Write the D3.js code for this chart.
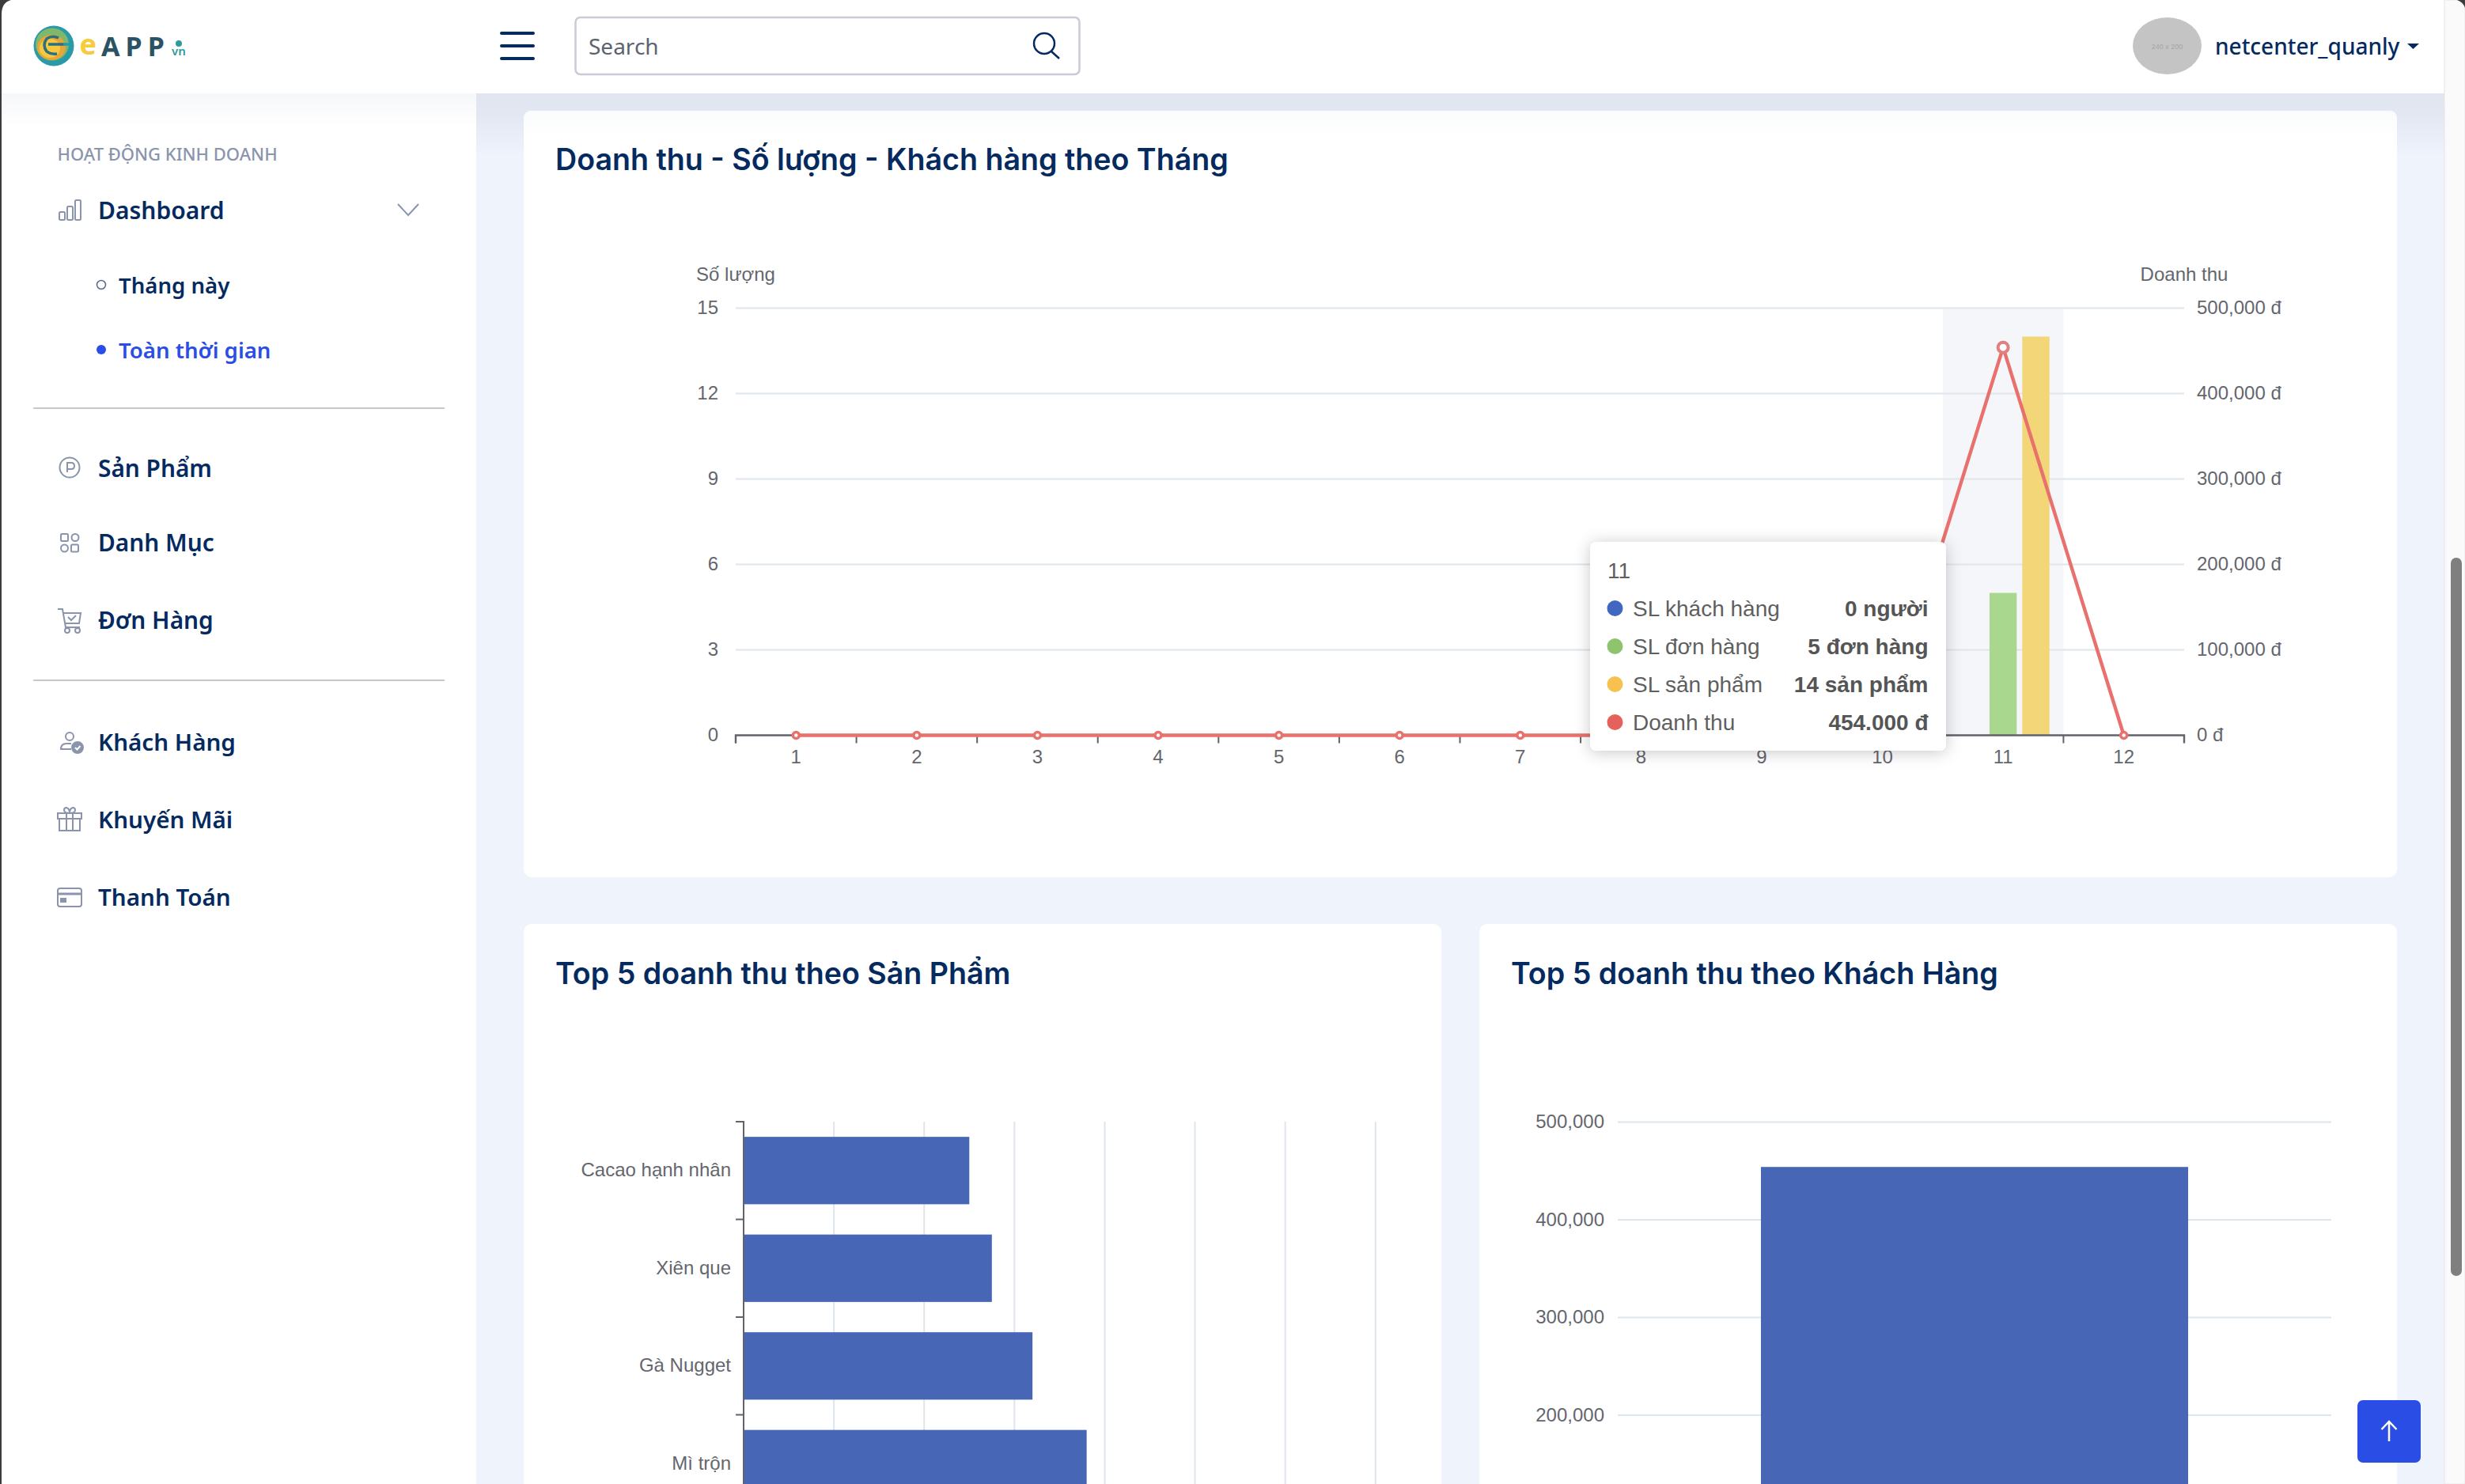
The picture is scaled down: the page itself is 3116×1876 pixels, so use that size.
<!DOCTYPE html>
<html>
<head>
<meta charset="utf-8">
<script src="https://d3js.org/d3.v7.min.js"></script>
<style>
html, body { margin: 0; padding: 0; background: #f0f4fc; overflow: hidden; }
svg { display: block; }
</style>
</head>
<body>
<div id="page"></div>
<script>
// chart values
var months = ["1","2","3","4","5","6","7","8","9","10","11","12"];
var customersByMonth = [0,0,0,0,0,0,0,0,0,0,0,0];
var ordersByMonth = [0,0,0,0,0,0,0,0,0,0,5,0];
var productsByMonth = [0,0,0,0,0,0,0,0,0,0,14,0];
var revenueByMonth = [0,0,0,0,0,0,0,0,0,0,454000,0];
var countTicks = [0,3,6,9,12,15];
var revenueTicks = [0,100000,200000,300000,400000,500000];
var seriesNames = ["SL khách hàng","SL đơn hàng","SL sản phẩm"];
var tooltipLabels = ["SL khách hàng","SL đơn hàng","SL sản phẩm","Doanh thu"];
var tooltipValues = ["0 người","5 đơn hàng","14 sản phẩm","454.000 đ"];

var productNames = ["Cacao hạnh nhân","Xiên que","Gà Nugget","Mì trộn"];
var productRevenue = [250000,275000,320000,380000];
var productTicks = [100000,200000,300000,400000,500000,600000,700000];

var customerNames = ["Top 1"];
var customerRevenue = [454000];
var customerTicks = [200000,300000,400000,500000];

var menuTop = ["Sản Phẩm","Danh Mục","Đơn Hàng"];
var menuBottom = ["Khách Hàng","Khuyến Mãi","Thanh Toán"];

var navy = "#042a60", axisGrey = "#616369", gridColor = "#dfe5ec", labelGrey = "#64666e";
var chartFont = "'Liberation Sans', Arial, sans-serif";
var uiFont = "'Noto Sans', sans-serif";
var titleFont = "Inter, sans-serif";
var barBlue = "#4767b6", lineRed = "#e8706d";

var svg = d3.select("#page").append("svg")
  .attr("width", 3116).attr("height", 1876);

var defs = svg.append("defs");
function shadow(id, dy, blur, op, col) {
  var f = defs.append("filter").attr("id", id)
    .attr("x", "-20%").attr("y", "-30%").attr("width", "140%").attr("height", "170%");
  f.append("feDropShadow").attr("dx", 0).attr("dy", dy)
    .attr("stdDeviation", blur).attr("flood-color", col).attr("flood-opacity", op);
}
shadow("tipShadow", 2, 10, 0.22, "#000");
function fade(id, stops) {
  var g = defs.append("linearGradient").attr("id", id).attr("x1", 0).attr("x2", 0).attr("y1", 0).attr("y2", 1);
  stops.forEach(function(s) { g.append("stop").attr("offset", s[0]).attr("stop-color", s[1]); });
}
fade("bgFade", [[0, "#e0e5f0"], [0.3, "#e2e7f2"], [1, "#eff3fc"]]);
fade("sideFade", [[0, "#f6f7f9"], [1, "#ffffff"]]);
fade("cardFade", [[0, "#fafbfc"], [1, "#ffffff"]]);

// page + cards
svg.append("rect").attr("width", 3116).attr("height", 1876).attr("fill", "#eff3fc");
svg.append("rect").attr("x", 602).attr("y", 118).attr("width", 2488).attr("height", 80).attr("fill", "url(#bgFade)");
function card(x, y, w, h) {
  svg.append("rect").attr("x", x).attr("y", y).attr("width", w).attr("height", h)
    .attr("rx", 10).attr("fill", "#fff");
}
card(662, 140, 2368, 969);
card(662, 1168, 1160, 800);
card(1870, 1168, 1160, 800);
svg.append("path").attr("d", "M662 172 V150 Q662 140 672 140 H3020 Q3030 140 3030 150 V172 Z").attr("fill", "url(#cardFade)");

function title(x, y, s) {
  svg.append("text").attr("x", x).attr("y", y).text(s)
    .attr("font-family", titleFont).attr("font-weight", 600)
    .attr("font-size", 37.6).attr("fill", navy).attr("dominant-baseline", "central");
}
title(702, 201, "Doanh thu - Số lượng - Khách hàng theo Tháng");
title(702, 1230, "Top 5 doanh thu theo Sản Phẩm");
title(1910, 1230, "Top 5 doanh thu theo Khách Hàng");

function styleAxis(g) {
  g.selectAll("text").attr("font-family", chartFont).attr("font-size", 24).attr("fill", labelGrey);
}

// main chart
var x = d3.scaleBand().domain(months).range([930, 2761]);
var yCount = d3.scaleLinear().domain([0, 15]).range([929.5, 389.5]);
var yRev = d3.scaleLinear().domain([0, 500000]).range([929.5, 389.5]);
var inner = d3.scaleBand().domain(seriesNames)
  .range([-0.384 * x.step(), 0.384 * x.step()]).paddingInner(0.169);

var main = svg.append("g");
main.append("rect").attr("x", x("11")).attr("y", yCount(15))
  .attr("width", x.bandwidth()).attr("height", yCount(0) - yCount(15)).attr("fill", "#f5f6fa");

var gLeft = main.append("g").attr("transform", "translate(930,0)")
  .call(d3.axisLeft(yCount).tickValues(countTicks).tickSize(-1831).tickPadding(22).offset(0));
gLeft.select(".domain").remove();
gLeft.selectAll("line").attr("stroke", gridColor).attr("stroke-width", 2)
  .filter(function(d) { return d === 0; }).remove();
styleAxis(gLeft);

var gRight = main.append("g").attr("transform", "translate(2761,0)")
  .call(d3.axisRight(yRev).tickValues(revenueTicks).tickSize(0).tickPadding(16).offset(0)
    .tickFormat(function(d) { return d3.format(",")(d) + " đ"; }));
gRight.select(".domain").remove();
styleAxis(gRight);

main.append("text").attr("x", 930).attr("y", 346).text("Số lượng")
  .attr("text-anchor", "middle").attr("dominant-baseline", "central")
  .attr("font-family", chartFont).attr("font-size", 24).attr("fill", labelGrey);
main.append("text").attr("x", 2761).attr("y", 346).text("Doanh thu")
  .attr("text-anchor", "middle").attr("dominant-baseline", "central")
  .attr("font-family", chartFont).attr("font-size", 24).attr("fill", labelGrey);

var barSeries = [
  {name: seriesNames[0], values: customersByMonth, color: "#8ea4d6"},
  {name: seriesNames[1], values: ordersByMonth, color: "#a9d78e"},
  {name: seriesNames[2], values: productsByMonth, color: "#f2d678"}
];
main.selectAll("g.series").data(barSeries).enter().append("g").attr("class", "series")
  .attr("fill", function(s) { return s.color; })
  .selectAll("rect").data(function(s) {
    return s.values.map(function(v, i) { return {v: v, m: months[i], name: s.name}; });
  }).enter().filter(function(d) { return d.v > 0; }).append("rect")
  .attr("x", function(d) { return x(d.m) + x.bandwidth() / 2 + inner(d.name); })
  .attr("width", inner.bandwidth())
  .attr("y", function(d) { return yCount(d.v); })
  .attr("height", function(d) { return yCount(0) - yCount(d.v); });

var gBottom = main.append("g").attr("transform", "translate(0,929.5)")
  .call(d3.axisBottom(x).tickSizeInner(0).tickSizeOuter(10).tickPadding(18).offset(0));
gBottom.select(".domain").attr("stroke", axisGrey).attr("stroke-width", 2.4);
styleAxis(gBottom);
gBottom.selectAll("line.sep").data(months).enter().append("line").attr("class", "sep")
  .attr("x1", function(d) { return x(d); }).attr("x2", function(d) { return x(d); })
  .attr("y1", 0).attr("y2", 10).attr("stroke", axisGrey).attr("stroke-width", 2);

var line = d3.line()
  .x(function(d, i) { return x(months[i]) + x.bandwidth() / 2; })
  .y(function(d) { return yRev(d); });
main.append("path").datum(revenueByMonth).attr("d", line)
  .attr("fill", "none").attr("stroke", lineRed).attr("stroke-width", 4.4);
main.selectAll("circle.pt").data(revenueByMonth).enter().append("circle").attr("class", "pt")
  .attr("cx", function(d, i) { return x(months[i]) + x.bandwidth() / 2; })
  .attr("cy", function(d) { return yRev(d); })
  .attr("r", function(d, i) { return months[i] === "11" ? 6.5 : 4; })
  .attr("fill", "#fff")
  .attr("stroke", function(d, i) { return months[i] === "11" ? "#e27f7f" : lineRed; })
  .attr("stroke-width", function(d, i) { return months[i] === "11" ? 4 : 3.5; });

// tooltip
var tipColors = ["#4267c0", "#8fc46f", "#f6c14f", "#e6605c"];
var tip = svg.append("g").attr("transform", "translate(2010,685)");
tip.append("rect").attr("width", 450).attr("height", 264).attr("rx", 8)
  .attr("fill", "#fff").attr("filter", "url(#tipShadow)");
tip.append("text").attr("x", 22).attr("y", 36).text("11")
  .attr("dominant-baseline", "central").attr("font-family", chartFont)
  .attr("font-size", 28).attr("fill", "#5f5f5f");
var rowY = d3.scalePoint().domain(tooltipLabels).range([84, 228]);
var rows = tip.selectAll("g.row").data(tooltipLabels).enter().append("g").attr("class", "row")
  .attr("transform", function(d) { return "translate(0," + rowY(d) + ")"; });
rows.append("circle").attr("cx", 31.5).attr("r", 10)
  .attr("fill", function(d, i) { return tipColors[i]; });
rows.append("text").attr("x", 54).text(function(d) { return d; })
  .attr("dominant-baseline", "central").attr("font-family", chartFont)
  .attr("font-size", 28).attr("fill", "#5f5f5f");
rows.append("text").attr("x", 427.5).attr("text-anchor", "end")
  .text(function(d, i) { return tooltipValues[i]; })
  .attr("dominant-baseline", "central").attr("font-family", chartFont)
  .attr("font-size", 28).attr("font-weight", 700).attr("fill", "#555");

// product bars
var xProd = d3.scaleLinear().domain([0, 700000]).range([940, 1738.8]);
var yProd = d3.scaleBand().domain(productNames).range([1418, 1418 + 4 * 123.5]).paddingInner(0.31).paddingOuter(0.155);
var gGrid = svg.append("g").attr("transform", "translate(0,1418)")
  .call(d3.axisBottom(xProd).tickValues(productTicks).tickSize(470).tickFormat("").offset(0));
gGrid.select(".domain").remove();
gGrid.selectAll("line").attr("stroke", gridColor).attr("stroke-width", 2);
svg.selectAll("rect.prod").data(productRevenue).enter().append("rect").attr("class", "prod")
  .attr("x", xProd(0))
  .attr("y", function(d, i) { return yProd(productNames[i]); })
  .attr("width", function(d) { return xProd(d) - xProd(0); })
  .attr("height", yProd.bandwidth())
  .attr("fill", barBlue);
var gProd = svg.append("g").attr("transform", "translate(940,0)")
  .call(d3.axisLeft(yProd).tickSizeInner(0).tickSizeOuter(10).tickPadding(16).offset(0));
gProd.select(".domain").attr("stroke", axisGrey).attr("stroke-width", 2);
styleAxis(gProd);
gProd.selectAll("line.sep").data(productNames).enter().append("line").attr("class", "sep")
  .attr("x1", -10).attr("x2", 0)
  .attr("y1", function(d) { return yProd(d) + yProd.bandwidth() / 2 - yProd.step() / 2; })
  .attr("y2", function(d) { return yProd(d) + yProd.bandwidth() / 2 - yProd.step() / 2; })
  .attr("stroke", axisGrey).attr("stroke-width", 2);

// customer bar
var xCust = d3.scaleBand().domain(customerNames).range([2045, 2947]).padding(0.251);
var yCust = d3.scaleLinear().domain([0, 500000]).range([1418.4 + 5 * 123.5, 1418.4]);
var gCust = svg.append("g").attr("transform", "translate(2045,0)")
  .call(d3.axisLeft(yCust).tickValues(customerTicks).tickSize(-902).tickPadding(17).tickFormat(d3.format(",")).offset(0));
gCust.select(".domain").remove();
gCust.selectAll("line").attr("stroke", gridColor).attr("stroke-width", 2);
styleAxis(gCust);
svg.selectAll("rect.cust").data(customerRevenue).enter().append("rect").attr("class", "cust")
  .attr("x", function(d, i) { return xCust(customerNames[i]); })
  .attr("y", function(d) { return yCust(d); })
  .attr("width", xCust.bandwidth())
  .attr("height", function(d) { return yCust(0) - yCust(d); })
  .attr("fill", barBlue);

// sidebar
var side = svg.append("g");
side.append("rect").attr("width", 602).attr("height", 1876).attr("fill", "#fff");
side.append("rect").attr("y", 118).attr("width", 602).attr("height", 42).attr("fill", "url(#sideFade)");
function sideText(px, py, s, size, weight, col) {
  side.append("text").attr("x", px).attr("y", py).text(s)
    .attr("font-family", uiFont).attr("font-size", size).attr("font-weight", weight)
    .attr("fill", col).attr("dominant-baseline", "central");
}
var iconGrey = "#8a94ad";
sideText(72.5, 194, "HOẠT ĐỘNG KINH DOANH", 22, 500, iconGrey);
sideText(124, 265, "Dashboard", 30, 600, navy);
sideText(150, 360, "Tháng này", 27.6, 600, navy);
sideText(150, 442, "Toàn thời gian", 27.6, 600, "#2a4de6");
side.append("circle").attr("cx", 128).attr("cy", 360).attr("r", 5.5).attr("fill", "#fff").attr("stroke", "#5a6a86").attr("stroke-width", 1.5);
side.append("circle").attr("cx", 128).attr("cy", 442).attr("r", 6).attr("fill", "#2a4de6");
[516, 860].forEach(function(d) {
  side.append("line").attr("x1", 42).attr("x2", 562).attr("y1", d).attr("y2", d).attr("stroke", "#c8c8c8").attr("stroke-width", 2);
});
var menuY1 = [591, 685.5, 783], menuY2 = [937, 1035, 1133];
menuTop.forEach(function(d, i) { sideText(124, menuY1[i], d, 29.8, 600, navy); });
menuBottom.forEach(function(d, i) { sideText(124, menuY2[i], d, 29.6, 600, navy); });

function icon(tx, ty, draw) {
  var g = side.append("g").attr("transform", "translate(" + tx + "," + ty + ")")
    .attr("fill", "none").attr("stroke", iconGrey).attr("stroke-width", 2);
  draw(g);
}
// dashboard icon
icon(74, 252, function(g) {
  g.append("rect").attr("x", 1).attr("y", 16).attr("width", 7).attr("height", 10).attr("rx", 1.5);
  g.append("rect").attr("x", 11).attr("y", 9).attr("width", 7).attr("height", 17).attr("rx", 1.5);
  g.append("rect").attr("x", 21).attr("y", 1).attr("width", 7).attr("height", 25).attr("rx", 1.5);
});
side.append("path").attr("d", "M503 258 L516 272 L529 258").attr("fill", "none").attr("stroke", iconGrey).attr("stroke-width", 2);
icon(75, 578, function(g) {
  g.append("ellipse").attr("cx", 13).attr("cy", 13).attr("rx", 12.5).attr("ry", 12.5);
  g.append("path").attr("d", "M10 19 V7 H15 Q19 7 19 11 Q19 15 15 15 H10");
});
icon(76, 674, function(g) {
  g.append("rect").attr("x", 1).attr("y", 1).attr("width", 9).attr("height", 9).attr("rx", 1.5);
  g.append("circle").attr("cx", 19).attr("cy", 5.5).attr("r", 4.5);
  g.append("circle").attr("cx", 5.5).attr("cy", 19).attr("r", 4.5);
  g.append("rect").attr("x", 14).attr("y", 14.5).attr("width", 9).attr("height", 9).attr("rx", 1.5);
});
icon(72, 769, function(g) {
  g.append("path").attr("d", "M1 1 H7 L11 24 H29 M8 6 H30 L28 19 H10");
  g.append("path").attr("d", "M14 11 L18 15 L24 9");
  g.append("circle").attr("cx", 13).attr("cy", 28).attr("r", 3);
  g.append("circle").attr("cx", 26).attr("cy", 28).attr("r", 3);
});
icon(76, 925, function(g) {
  g.append("circle").attr("cx", 12).attr("cy", 6).attr("r", 5);
  g.append("path").attr("d", "M14 15 H8 Q1 15 1 22 H14");
  g.append("circle").attr("cx", 22).attr("cy", 20).attr("r", 7).attr("fill", iconGrey);
  g.append("path").attr("d", "M19 20 L21.5 22.5 L25.5 18").attr("stroke", "#fff");
});
icon(72, 1020, function(g) {
  g.append("rect").attr("x", 1).attr("y", 8).attr("width", 30).attr("height", 7);
  g.append("rect").attr("x", 3).attr("y", 15).attr("width", 26).attr("height", 15);
  g.append("path").attr("d", "M12 8 V30 M20 8 V30 M16 8 Q9 8 9 4 Q9 1 12 1 Q16 2 16 8 Q16 2 20 1 Q23 1 23 4 Q23 8 16 8");
});
icon(72, 1122, function(g) {
  g.append("rect").attr("x", 1).attr("y", 1).attr("width", 30).attr("height", 23).attr("rx", 3);
  g.append("path").attr("d", "M1 8 H31").attr("stroke-width", 3);
  g.append("rect").attr("x", 5).attr("y", 14).attr("width", 6).attr("height", 4).attr("fill", iconGrey);
});

// header
var head = svg.append("g");
head.append("rect").attr("width", 3116).attr("height", 118).attr("fill", "#fff");

// logo rings
head.append("circle").attr("cx", 68).attr("cy", 58).attr("r", 25.5).attr("fill", "#2a9aa8");
head.append("ellipse").attr("cx", 66).attr("cy", 56).attr("rx", 21).attr("ry", 20.5).attr("fill", "#7fb86a");
head.append("ellipse").attr("cx", 65).attr("cy", 60).attr("rx", 18).attr("ry", 16).attr("fill", "#e8a63a");
head.append("ellipse").attr("cx", 63).attr("cy", 61).attr("rx", 13).attr("ry", 12).attr("fill", "#f6c83f");
head.append("path").attr("d", "M82 56 H61 M74 48 Q66 44 59 49 Q53 57 59 65 Q64 69 72 68")
  .attr("fill", "none").attr("stroke", "#2b6f80").attr("stroke-width", 3.5);
head.append("path").attr("d", "M80 56 H93").attr("stroke", "#2a9aa8").attr("stroke-width", 3.5);
head.append("text").attr("x", 100.5).attr("y", 55).text("e").attr("font-family", uiFont)
  .attr("font-weight", 700).attr("font-size", 36).attr("fill", "#f8cb3a").attr("dominant-baseline", "central");
head.append("text").attr("x", 128).attr("y", 58).text("APP").attr("font-family", uiFont)
  .attr("font-weight", 700).attr("font-size", 34).attr("letter-spacing", 7).attr("fill", "#2c5364").attr("dominant-baseline", "central");
head.append("circle").attr("cx", 226).attr("cy", 55).attr("r", 4).attr("fill", "#2f9a9e");
head.append("text").attr("x", 217).attr("y", 64).text("vn").attr("font-family", uiFont)
  .attr("font-weight", 600).attr("font-size", 15).attr("fill", "#2f9a9e").attr("dominant-baseline", "central");

// hamburger
[42, 58, 74].forEach(function(d) {
  head.append("line").attr("x1", 634).attr("x2", 674).attr("y1", d).attr("y2", d)
    .attr("stroke", navy).attr("stroke-width", 4).attr("stroke-linecap", "round");
});
// search
head.append("rect").attr("x", 727.5).attr("y", 22).attr("width", 637).attr("height", 72).attr("rx", 6)
  .attr("fill", "#fff").attr("stroke", "#c9ccd6").attr("stroke-width", 2.5);
head.append("text").attr("x", 744).attr("y", 58).text("Search").attr("font-family", uiFont)
  .attr("font-size", 28).attr("fill", "#5c6370").attr("dominant-baseline", "central");
head.append("circle").attr("cx", 1320).attr("cy", 55).attr("r", 13).attr("fill", "none").attr("stroke", navy).attr("stroke-width", 2.5);
head.append("line").attr("x1", 1329).attr("y1", 65).attr("x2", 1339).attr("y2", 74).attr("stroke", navy).attr("stroke-width", 2.5);

// user
head.append("ellipse").attr("cx", 2739.5).attr("cy", 58).attr("rx", 43.5).attr("ry", 36).attr("fill", "#c4c4c4");
head.append("text").attr("x", 2739.5).attr("y", 59).text("240 x 200").attr("text-anchor", "middle")
  .attr("font-family", chartFont).attr("font-size", 9).attr("fill", "#a6a6a6").attr("dominant-baseline", "central");
head.append("text").attr("x", 2800).attr("y", 58).text("netcenter_quanly").attr("font-family", uiFont)
  .attr("font-size", 28).attr("font-weight", 500).attr("fill", navy).attr("dominant-baseline", "central");
head.append("path").attr("d", "M3043 55 H3058 L3050.5 62 Z").attr("fill", navy);

// back to top
svg.append("rect").attr("x", 2980).attr("y", 1770).attr("width", 80).attr("height", 79).attr("rx", 7).attr("fill", "#2a4de6");
svg.append("path").attr("d", "M3020 1822 V1798 M3010.5 1807 L3020 1797 L3029.5 1807")
  .attr("fill", "none").attr("stroke", "#fff").attr("stroke-width", 2.5);

// scrollbar + window edge
svg.append("rect").attr("x", 3090).attr("width", 26).attr("height", 1876).attr("fill", "#fafafa").attr("stroke", "#e6e6e6").attr("stroke-width", 1);
svg.append("rect").attr("x", 3098).attr("y", 705).attr("width", 14).attr("height", 908).attr("rx", 7).attr("fill", "#7f7f7f");
svg.append("path").attr("d", "M0 0 H14 Q2 3 2 18 V1876 H0 Z").attr("fill", "#3c3c3c");
svg.append("path").attr("d", "M3116 0 V10 Q3114 3 3106 0 Z").attr("fill", "#3c3c3c");
</script>
</body>
</html>
